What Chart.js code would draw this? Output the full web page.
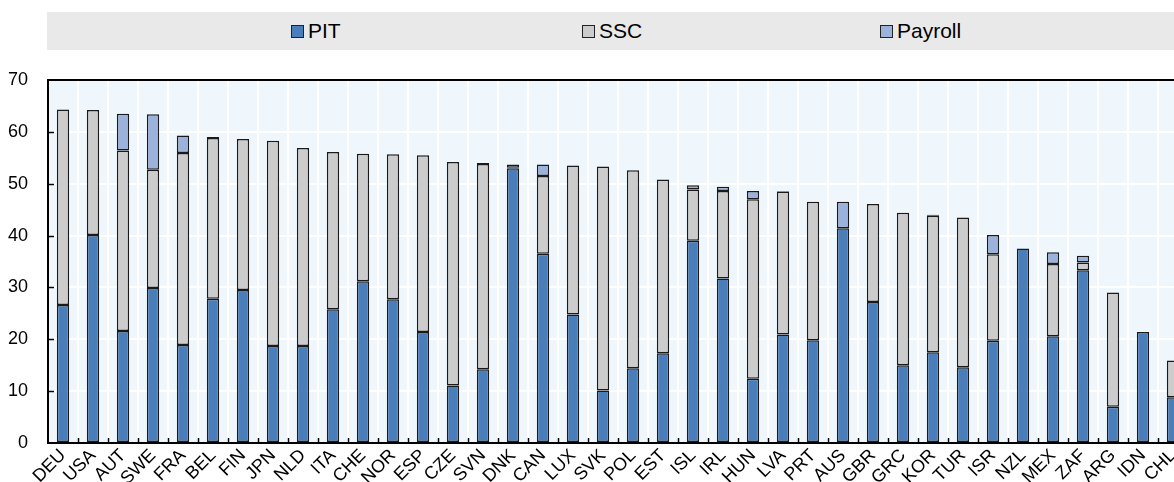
<!DOCTYPE html>
<html>
<head>
<meta charset="utf-8">
<script src="https://cdn.jsdelivr.net/npm/chart.js@4/dist/chart.umd.min.js"></script>
<style>
  html, body { margin: 0; padding: 0; background: #fff; overflow: hidden; width: 1174px; height: 482px; }
  #wrap { position: absolute; left: 0; top: 0; width: 1200px; height: 500px; }
  #legend { position: absolute; left: 47px; top: 12px; width: 1160px; height: 38px; background: #E9E9E9; }
  .item { position: absolute; top: 0; height: 38px; display: flex; align-items: center;
          font-family: "Liberation Sans", Arial, sans-serif; font-size: 21px; color: #000; }
  .sw { width: 11px; height: 11px; border: 1px solid #222; margin-right: 4px; }
  canvas { position: absolute; left: 0; top: 0; }
</style>
</head>
<body>
<div id="wrap">
  <canvas id="c" width="1200" height="500"></canvas>
  <div id="legend"></div>
</div>
<script>
const categories = ["DEU","USA","AUT","SWE","FRA","BEL","FIN","JPN","NLD","ITA","CHE","NOR","ESP","CZE","SVN","DNK","CAN","LUX","SVK","POL","EST","ISL","IRL","HUN","LVA","PRT","AUS","GBR","GRC","KOR","TUR","ISR","NZL","MEX","ZAF","ARG","IDN","CHL"];
const pit     = [26.6,40.1,21.6,29.9,18.9,27.8,29.5,18.7,18.7,25.8,31.2,27.7,21.4,11.1,14.2,53.0,36.5,24.8,10.1,14.4,17.3,39.0,31.7,12.4,20.9,19.8,41.4,27.2,15.0,17.5,14.6,19.7,37.5,20.6,33.3,7.0,21.4,8.8];
const ssc     = [37.7,24.1,34.8,22.8,37.0,31.0,29.1,39.6,38.2,30.3,24.6,28.0,34.1,43.1,39.6,0.1,15.0,28.7,43.2,38.2,33.5,9.9,16.9,34.6,27.6,26.7,0,18.9,29.4,26.3,28.9,16.7,0,13.9,1.5,22.0,0,7.1];
const payroll = [0,0,7.1,10.7,3.4,0.2,0,0,0,0,0,0,0,0,0.2,0.6,2.2,0,0,0,0,0.8,0.8,1.6,0.1,0,5.1,0,0,0.2,0,3.7,0,2.3,1.3,0,0,0];
const yTicks = [0,10,20,30,40,50,60,70];

const seriesNames = ["PIT","SSC","Payroll"];
const seriesColors = ["#4A7EBB","#CCCCCC","#9AB2DC"];
const legendLefts = [244, 535, 833];

const bgPlugin = {
  id: 'bg',
  beforeDraw(chart) {
    const {ctx, chartArea: a} = chart;
    ctx.save();
    ctx.fillStyle = '#F0F7FC';
    ctx.fillRect(a.left, a.top, a.right - a.left, a.bottom - a.top);
    ctx.restore();
  },
  afterDraw(chart) {
    const {ctx, chartArea: a} = chart;
    const xs = chart.scales.x, ys = chart.scales.y;
    ctx.save();
    ctx.strokeStyle = '#000';
    ctx.lineWidth = 2;
    ctx.beginPath();
    ctx.moveTo(a.left - 1, a.top);
    ctx.lineTo(a.right, a.top);
    ctx.stroke();
    ctx.lineWidth = 1.5;
    ctx.beginPath();
    for (let i = 0; i < categories.length - 1; i++) {
      const x = Math.round((xs.getPixelForValue(i) + xs.getPixelForValue(i + 1)) / 2) + 0.5;
      ctx.moveTo(x, a.bottom);
      ctx.lineTo(x, a.bottom - 5);
    }
    yTicks.forEach(v => {
      if (v === 0 || v === 70) return;
      const y = Math.round(ys.getPixelForValue(v)) + 0.5;
      ctx.moveTo(a.left, y);
      ctx.lineTo(a.left + 6, y);
    });
    ctx.stroke();
    ctx.restore();
  }
};

const datasets = [pit, ssc, payroll].map((d, i) => ({
  label: seriesNames[i],
  data: d.map(v => (v === 0 ? null : v)),
  backgroundColor: seriesColors[i],
  borderColor: '#1a1a1a',
  borderWidth: 1.5,
  borderSkipped: false,
  barPercentage: 0.82,
  categoryPercentage: 0.5
}));

const chart = new Chart(document.getElementById('c'), {
  type: 'bar',
  data: { labels: categories, datasets },
  plugins: [bgPlugin],
  options: {
    responsive: false,
    animation: false,
    devicePixelRatio: 1,
    layout: { padding: { top: 80, right: 12, left: 0, bottom: 0 } },
    plugins: { legend: { display: false }, tooltip: { enabled: false } },
    scales: {
      x: {
        stacked: true,
        grid: { color: '#FFFFFF', lineWidth: 2, offset: true, drawTicks: false },
        border: { color: '#000', width: 2 },
        ticks: { autoSkip: false, maxRotation: 45, minRotation: 45, padding: 2,
                 color: '#000', font: { family: '"Liberation Sans", Arial, sans-serif', size: 18 } },
        afterFit(s) { s.height = 57; }
      },
      y: {
        stacked: true,
        min: 0, max: 70,
        afterBuildTicks(s) { s.ticks = yTicks.map(v => ({ value: v })); },
        grid: { color: '#FFFFFF', lineWidth: 2, drawTicks: false },
        border: { color: '#000', width: 2 },
        ticks: { padding: 20, color: '#000', font: { family: '"Liberation Sans", Arial, sans-serif', size: 18 } },
        afterFit(s) { s.width = 48; }
      }
    }
  }
});

const leg = document.getElementById('legend');
chart.data.datasets.forEach((ds, i) => {
  const it = document.createElement('div');
  it.className = 'item';
  it.style.left = legendLefts[i] + 'px';
  const sw = document.createElement('span');
  sw.className = 'sw';
  sw.style.background = ds.backgroundColor;
  const tx = document.createElement('span');
  tx.textContent = ds.label;
  it.appendChild(sw); it.appendChild(tx);
  leg.appendChild(it);
});
</script>
</body>
</html>
